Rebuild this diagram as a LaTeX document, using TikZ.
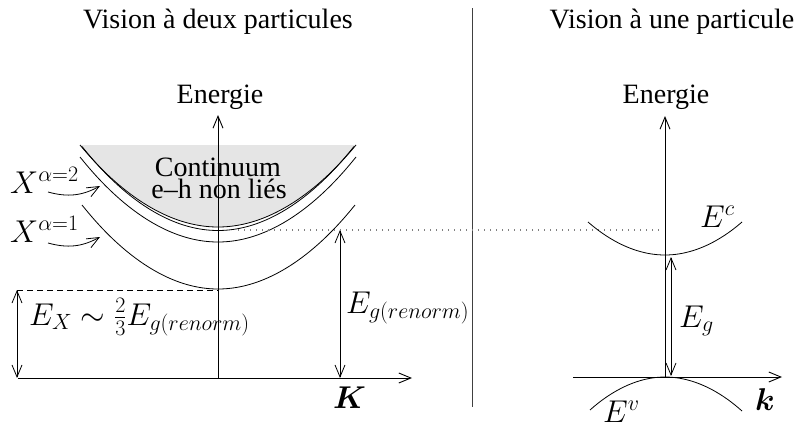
\RequirePackage{fix-cm}
\documentclass[tikz,border=0pt]{standalone}
\usepackage{amsmath}
\usepackage{fontspec}
\setmainfont{Liberation Serif}
\usetikzlibrary{arrows.meta}
\tikzset{
  lbl/.style={inner sep=0pt},
  mlbl/.style={inner sep=0pt, font=\fontsize{31.5}{38}\selectfont},
  curve/.style={line width=0.8pt},
  axis/.style={line width=0.9pt, ->},
  dimarrow/.style={line width=0.8pt, <->},
  dotline/.style={black!50, line width=1.3pt, dash pattern=on 1.3pt off 4.7pt},
  dashline/.style={line width=0.8pt, dash pattern=on 6pt off 4pt},
}
\begin{document}
\begin{tikzpicture}[x=1pt,y=-1pt,
  font=\fontsize{28}{34}\selectfont,
  >={Straight Barb[length=12pt,width=10pt]}]
\useasboundingbox (0,0) rectangle (797,426);

% titles
\node[lbl, anchor=base] (t1) at (218,28) {Vision à deux particules};
\node[lbl, anchor=base] (t2) at (672,28) {Vision à une particule};

% divider
\coordinate (d1) at (472,8);
\coordinate (d2) at (472,407);
\draw[black!75, line width=1pt] (d1) -- (d2);

% ---------------- left panel ----------------
% continuum fill
\fill[black!10] (80,145) parabola bend (218,227) (356,145) -- cycle;
\draw[curve] (80,145) parabola bend (218,227) (356,145);
\draw[curve] (82,146.5) parabola bend (218,230.5) (354,146.5);
\draw[curve] (80,157) parabola bend (218,242) (356,157);
\draw[curve] (82,205) parabola bend (218,289) (355,205);

\node[lbl, anchor=base] (c1) at (218,176) {Continuum};
\node[lbl, anchor=base] (c2) at (219,198) {e--h non liés};

% axes
\coordinate (o1) at (218,378);
\coordinate (y1) at (218,115);
\coordinate (xs1) at (18,378);
\coordinate (xe1) at (412,378);
\draw[axis] (xs1) -- (xe1);
\draw[axis] (o1) -- (y1);
\node[lbl, anchor=base] (en1) at (220,103) {Energie};
\node[mlbl, anchor=base west] (K) at (333,408) {$\boldsymbol{K}$};

% exciton labels
\node[mlbl, anchor=base west] (xa2) at (10,193) {$X^{\alpha=2}$};
\node[mlbl, anchor=base west] (xa1) at (10,242) {$X^{\alpha=1}$};
\coordinate (a2s) at (48,192);
\coordinate (a2e) at (100,186);
\coordinate (a1s) at (48,243);
\coordinate (a1e) at (100,237);
\draw[curve, ->] (a2s) to[bend right=22] (a2e);
\draw[curve, ->] (a1s) to[bend right=22] (a1e);

% binding energy
\coordinate (ex1) at (17,290);
\coordinate (ex2) at (17,378);
\coordinate (dsh) at (218,290);
\draw[dashline] (ex1) -- (dsh);
\draw[dimarrow] (ex1) -- (ex2);
\node[mlbl, anchor=base west] (EX) at (29,325) {$E_X\sim\tfrac{2}{3}E_{g(renorm)}$};

% renormalised gap
\coordinate (gr1) at (340,230);
\coordinate (gr2) at (340,378);
\draw[dimarrow] (gr1) -- (gr2);
\node[mlbl, anchor=base west] (EGR) at (346,313) {$E_{g(renorm)}$};

% dotted level
\coordinate (dt1) at (238,230);
\coordinate (dt2) at (663,230);
\draw[dotline] (dt1) -- (dt2);

% ---------------- right panel ----------------
\coordinate (o2) at (665,377);
\coordinate (y2) at (665,116);
\coordinate (xs2) at (573,377);
\coordinate (xe2) at (782,377);
\draw[axis] (xs2) -- (xe2);
\draw[axis] (o2) -- (y2);
\node[lbl, anchor=base] (en2) at (666,103) {Energie};

\draw[curve] (588,222) parabola bend (665,255) (742,222);
\draw[curve] (590,410) parabola bend (665,377) (742,411);

\coordinate (g1) at (671,257);
\coordinate (g2) at (671,376);
\draw[dimarrow] (g1) -- (g2);
\node[mlbl, anchor=base west] (Eg) at (679,327) {$E_g$};
\node[mlbl, anchor=base west] (Ec) at (700,227) {$E^c$};
\node[mlbl, anchor=base west] (Ev) at (603,422) {$E^v$};
\node[mlbl, anchor=base west] (k) at (755,410) {$\boldsymbol{k}$};
\end{tikzpicture}
\end{document}
